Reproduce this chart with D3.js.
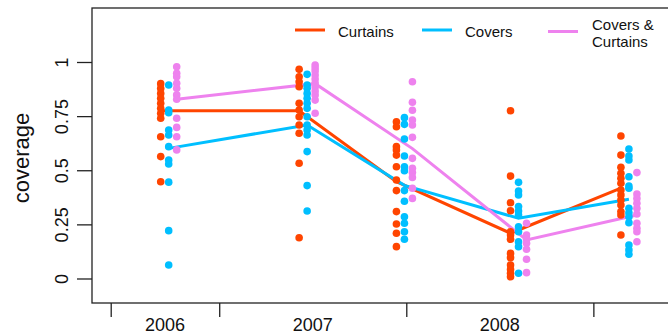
<!DOCTYPE html>
<html>
<head>
<meta charset="utf-8">
<script src="https://cdn.jsdelivr.net/npm/d3@7"></script>
<style>
  body { margin: 0; background: #fff; }
  svg text { font-family: "Liberation Sans", Arial, sans-serif; fill: #111; }
</style>
</head>
<body>
<div id="chart"></div>
<script>
(function(d3) {
  'use strict';

  // survey times (decimal year)
  var surveys = [2006.73, 2007.47, 2007.99, 2008.60, 2009.19];
  var yearLabels = [2006, 2007, 2008];
  var yearTicks = [2006.42, 2007, 2008, 2009];
  var yTicks = [0, 0.25, 0.5, 0.75, 1];

  var seriesNames = ['Curtains', 'Covers', 'Covers & Curtains'];

  // group means (lines)
  var curtainsMean = [0.775, 0.775, 0.447, 0.209, 0.417];
  var coversMean = [0.601, 0.709, 0.43, 0.278, 0.366];
  var bothMean = [0.828, 0.90, 0.60, 0.178, 0.293];

  // individual site values
  var curtainsPts = [
    [0.90, 0.878, 0.855, 0.832, 0.809, 0.786, 0.763, 0.740, 0.655, 0.563, 0.447],
    [0.966, 0.932, 0.909, 0.886, 0.809, 0.778, 0.747, 0.709, 0.671, 0.532, 0.188],
    [0.724, 0.701, 0.609, 0.594, 0.570, 0.516, 0.455, 0.406, 0.309, 0.252, 0.209, 0.147],
    [0.775, 0.473, 0.350, 0.313, 0.216, 0.201, 0.181, 0.116, 0.096, 0.062, 0.042, 0.024, 0.008],
    [0.658, 0.570, 0.514, 0.486, 0.463, 0.440, 0.409, 0.386, 0.363, 0.339, 0.309, 0.293, 0.201]
  ];
  var coversPts = [
    [0.894, 0.778, 0.766, 0.686, 0.663, 0.609, 0.547, 0.529, 0.445, 0.221, 0.062],
    [0.943, 0.894, 0.879, 0.855, 0.832, 0.809, 0.786, 0.747, 0.709, 0.686, 0.663, 0.586, 0.429, 0.312],
    [0.743, 0.712, 0.644, 0.566, 0.516, 0.498, 0.406, 0.357, 0.285, 0.255, 0.216, 0.181],
    [0.444, 0.404, 0.386, 0.332, 0.312, 0.293, 0.239, 0.216, 0.170, 0.147, 0.024],
    [0.598, 0.566, 0.547, 0.470, 0.427, 0.417, 0.324, 0.304, 0.285, 0.258, 0.155, 0.132, 0.112]
  ];
  var bothPts = [
    [0.978, 0.948, 0.932, 0.902, 0.879, 0.848, 0.828, 0.740, 0.698, 0.655, 0.594],
    [0.986, 0.972, 0.958, 0.94, 0.921, 0.903, 0.885, 0.866, 0.848, 0.824, 0.763],
    [0.909, 0.814, 0.777, 0.732, 0.709, 0.652, 0.555, 0.509, 0.489, 0.467, 0.417, 0.370],
    [0.255, 0.201, 0.181, 0.163, 0.135, 0.089, 0.027],
    [0.489, 0.390, 0.370, 0.347, 0.324, 0.298, 0.255, 0.232, 0.216, 0.170]
  ];

  var colors = ['#ff4500', '#00bfff', '#ee82ee'];
  var offsets = [-8, 0, 8];
  var means = [curtainsMean, coversMean, bothMean];
  var points = [curtainsPts, coversPts, bothPts];

  var width = 668, height = 336;
  var left = 92, top = 8, bottom = 303, right = 700;

  var svg = d3.select('#chart').append('svg')
    .attr('width', width)
    .attr('height', height);

  var x = d3.scaleLinear().domain([2006.32, 2009.57]).range([left, right]);
  var y = d3.scaleLinear().domain([-0.1132, 1.2494]).range([bottom, top]);

  // frame
  svg.append('rect')
    .attr('x', left).attr('y', top)
    .attr('width', right - left).attr('height', bottom - top)
    .attr('fill', 'none').attr('stroke', '#222').attr('stroke-width', 1.3);

  // y axis
  var yAxis = svg.append('g')
    .attr('transform', 'translate(' + left + ',0)')
    .call(d3.axisLeft(y).tickValues(yTicks).tickSize(15).tickSizeOuter(0).tickFormat(String));
  yAxis.select('.domain').remove();
  yAxis.selectAll('line').attr('stroke', '#222').attr('stroke-width', 1.3);
  yAxis.selectAll('text')
    .attr('x', 0).attr('dy', 0)
    .attr('text-anchor', 'middle')
    .attr('transform', 'translate(-24,0) rotate(-90)')
    .style('font-size', '18px')
    .style('font-family', '"Liberation Sans", Arial, sans-serif')
    .attr('fill', '#111');

  svg.append('text')
    .attr('transform', 'translate(28.5,158) rotate(-90)')
    .attr('text-anchor', 'middle')
    .style('font-size', '22px')
    .text('coverage');

  // x axis
  var xAxis = svg.append('g')
    .attr('transform', 'translate(0,' + bottom + ')')
    .call(d3.axisBottom(x).tickValues(yearTicks).tickSize(14).tickSizeOuter(0).tickFormat(''));
  xAxis.select('.domain').remove();
  xAxis.selectAll('line').attr('stroke', '#222').attr('stroke-width', 1.3);

  var labelX = yearLabels.map(function(yr, i) {
    return (x(yearTicks[i]) + x(yearTicks[i + 1])) / 2;
  });
  svg.selectAll('.year-label').data(yearLabels).enter().append('text')
    .attr('class', 'year-label')
    .attr('x', function(d, i) { return labelX[i]; })
    .attr('y', 331)
    .attr('text-anchor', 'middle')
    .style('font-size', '18px')
    .text(function(d) { return d; });

  // mean lines
  var line = d3.line();
  means.forEach(function(m, s) {
    svg.append('path')
      .attr('d', line(m.map(function(v, i) { return [x(surveys[i]) + offsets[s], y(v)]; })))
      .attr('fill', 'none')
      .attr('stroke', colors[s])
      .attr('stroke-width', 3);
  });

  // points
  points.forEach(function(groups, s) {
    var flat = [];
    groups.forEach(function(vals, i) {
      vals.forEach(function(v) { flat.push({ t: surveys[i], v: v }); });
    });
    svg.append('g').selectAll('circle').data(flat).enter().append('circle')
      .attr('cx', function(d) { return x(d.t) + offsets[s]; })
      .attr('cy', function(d) { return y(d.v); })
      .attr('r', 3.8)
      .attr('fill', colors[s]);
  });

  // legend
  var legend = [
    { x1: 295, ly: 30, tx: 338, lines: ['Curtains'], ty: 36.5 },
    { x1: 422, ly: 30, tx: 465, lines: ['Covers'], ty: 36.5 },
    { x1: 548, ly: 31.5, tx: 592, lines: ['Covers &', 'Curtains'], ty: 30 }
  ];
  legend.forEach(function(l, s) {
    svg.append('line')
      .attr('x1', l.x1).attr('x2', l.x1 + 30)
      .attr('y1', l.ly).attr('y2', l.ly)
      .attr('stroke', colors[s]).attr('stroke-width', 3);
    var t = svg.append('text')
      .attr('x', l.tx).attr('y', l.ty)
      .style('font-size', '15px');
    l.lines.forEach(function(txt, j) {
      t.append('tspan').attr('x', l.tx).attr('dy', j === 0 ? 0 : 16.5).text(txt);
    });
  });
}(d3));
</script>
</body>
</html>
